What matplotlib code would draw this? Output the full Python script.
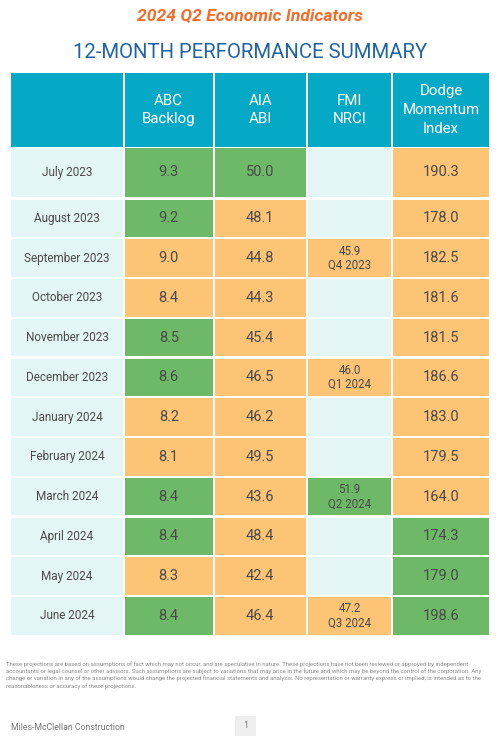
import matplotlib.pyplot as plt
from matplotlib.patches import Rectangle

plt.rcParams['font.family'] = ['Roboto', 'DejaVu Sans']

# 표 데이터
months = ["July 2023", "August 2023", "September 2023", "October 2023",
          "November 2023", "December 2023", "January 2024", "February 2024",
          "March 2024", "April 2024", "May 2024", "June 2024"]
headers = ["ABC\nBacklog", "AIA\nABI", "FMI\nNRCI", "Dodge\nMomentum\nIndex"]
abc = [9.3, 9.2, 9.0, 8.4, 8.5, 8.6, 8.2, 8.1, 8.4, 8.4, 8.3, 8.4]
aia = [50.0, 48.1, 44.8, 44.3, 45.4, 46.5, 46.2, 49.5, 43.6, 48.4, 42.4, 46.4]
fmi = [None, None, "45.9\nQ4 2023", None, None, "46.0\nQ1 2024", None, None,
       "51.9\nQ2 2024", None, None, "47.2\nQ3 2024"]
dodge = [190.3, 178.0, 182.5, 181.6, 181.5, 186.6, 183.0, 179.5, 164.0, 174.3, 179.0, 198.6]

# 셀 색 (g = 좋음, o = 주의, None = 빈칸)
abc_c = ["g", "g", "o", "o", "g", "g", "o", "o", "g", "g", "o", "g"]
aia_c = ["g", "o", "o", "o", "o", "o", "o", "o", "o", "o", "o", "o"]
fmi_c = [None, None, "o", None, None, "o", None, None, "g", None, None, "o"]
dodge_c = ["o", "o", "o", "o", "o", "o", "o", "o", "o", "g", "g", "g"]

TEAL = "#05a9c6"
LIGHT = "#e3f5f5"
GREEN = "#6eb968"
ORANGE = "#fec476"
TEXT = "#4a4a4a"
colmap = {"g": GREEN, "o": ORANGE, None: LIGHT}

# 레이아웃 (픽셀)
col_x = [11, 125, 214.5, 308, 393]
col_w = [112, 87.5, 91.5, 83, 96]
header_top, header_h = 73, 74
row_tops = [148, 199.5]
row_hs = [49, 37.7]
step = 39.75

fig = plt.figure(figsize=(5, 7.36), dpi=100)
ax = fig.add_axes([0, 0, 1, 1])
ax.set_xlim(0, 500)
ax.set_ylim(736, 0)
ax.axis("off")


def cell(x, y, w, h, color):
    ax.add_patch(Rectangle((x, y), w, h, facecolor=color, edgecolor="none"))


# 헤더
for j in range(5):
    cell(col_x[j], header_top, col_w[j], header_h, TEAL)
    if j > 0:
        ax.text(col_x[j] + col_w[j] / 2, header_top + header_h / 2, headers[j - 1],
                ha="center", va="center", color="white", fontsize=10.8,
                linespacing=1.45)

# 본문
values = [abc, aia, fmi, dodge]
colors = [abc_c, aia_c, fmi_c, dodge_c]
for i, m in enumerate(months):
    if i == 0:
        y, h = row_tops[0], row_hs[0]
    else:
        y, h = row_tops[1] + (i - 1) * step, row_hs[1]
    cy = y + h / 2
    cell(col_x[0], y, col_w[0], h, LIGHT)
    ax.text(col_x[0] + col_w[0] / 2, cy, m, ha="center", va="center",
            color=TEXT, fontsize=8.5)
    for k in range(4):
        x, w = col_x[k + 1], col_w[k + 1]
        cell(x, y, w, h, colmap[colors[k][i]])
        v = values[k][i]
        if v is None:
            continue
        if isinstance(v, str):
            ax.text(x + w / 2, cy, v, ha="center", va="center", color=TEXT,
                    fontsize=8.3, linespacing=1.1)
        else:
            ax.text(x + w / 2, cy, f"{v:.1f}", ha="center", va="center",
                    color=TEXT, fontsize=10.5)

# 제목
ax.text(250, 16, "2024 Q2 Economic Indicators", ha="center", va="center",
        color="#f26c2b", fontsize=12.6, fontweight="bold", fontstyle="italic")
ax.text(250, 52, "12-MONTH PERFORMANCE SUMMARY", ha="center", va="center",
        color="#1f63a8", fontsize=14.7)

# 주석
note = ("These projections are based on assumptions of fact which may not occur, and are speculative in nature. "
        "These projections have not been reviewed or approved by independent\n"
        "accountants or legal counsel or other advisors. Such assumptions are subject to variations that may arise "
        "in the future and which may be beyond the control of the corporation. Any\n"
        "change or variation in any of the assumptions would change the projected financial statements and analysis. "
        "No representation or warranty express or implied, is intended as to the\n"
        "reasonableness or accuracy of these projections.")
ax.text(6, 661, note, ha="left", va="top", color="#8a8a8a", fontsize=4.3,
        linespacing=1.35)

ax.text(11, 727, "Miles-McClellan Construction", ha="left", va="center",
        color="#777777", fontsize=6.3)
ax.add_patch(Rectangle((235, 716), 21, 20, facecolor="#efefef", edgecolor="none"))
ax.text(245.5, 726, "1", ha="center", va="center", color="#777777", fontsize=6.3)

fig.savefig("out.png", dpi=100, facecolor="white")
